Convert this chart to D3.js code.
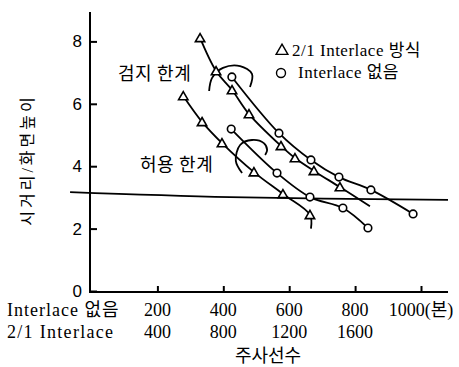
<!DOCTYPE html>
<html>
<head>
<meta charset="utf-8">
<script src="https://cdn.jsdelivr.net/npm/d3@7"></script>
<style>
  html, body { margin: 0; padding: 0; background: #fff; }
  text { font-family: "Liberation Serif", "Noto Sans CJK KR", serif; fill: #000; }
</style>
</head>
<body>
<div id="chart"></div>
<script>
// 2/1 interlace series (x in 2/1 interlace scan lines)
var triUpperX = [659, 756, 853, 956, 1150, 1235, 1350, 1508, 1690];
var triUpperY = [8.11, 7.05, 6.44, 5.67, 4.65, 4.26, 3.85, 3.33, 2.72];
var triLowerX = [557, 671, 792, 986, 1162, 1326, 1332];
var triLowerY = [6.25, 5.42, 4.74, 3.81, 3.11, 2.44, 2.0];
// markers only on measured points (last entry of each line is the drawn tail)
var triUpperMarks = 8;
var triLowerMarks = 6;

// no interlace series (x in scan lines)
var circUpperX = [426, 569, 666, 751, 848, 976];
var circUpperY = [6.86, 5.06, 4.20, 3.65, 3.24, 2.47];
var circLowerX = [424, 563, 663, 763, 839];
var circLowerY = [5.19, 3.78, 3.01, 2.66, 2.02];

// sloping reference line
var refX = [-65, 420, 1082];
var refY = [3.17, 3.01, 2.92];

// annotation loops (no-interlace x units)
var loop1X = [357, 366, 399, 451, 487, 481];
var loop1Y = [6.41, 6.83, 7.15, 7.21, 6.96, 6.54];
var loop2X = [457, 438, 451, 487, 523, 533, 527];
var loop2Y = [3.78, 4.17, 4.68, 4.84, 4.74, 4.52, 4.36];

var yTicks = [0, 2, 4, 6, 8];
var xTicks = [200, 400, 600, 800, 1000];
var xTickLabels = ["200", "400", "600", "800", "1000(본)"];
var x2Ticks = [400, 800, 1200, 1600];

var w = 459, h = 367;

var svg = d3.select("#chart").append("svg")
  .attr("width", w)
  .attr("height", h);

var x = d3.scaleLinear().domain([0, 1000]).range([91.5, 421]);
var x2 = d3.scaleLinear().domain([0, 2000]).range([91.5, 421]);
var y = d3.scaleLinear().domain([0, 8]).range([291, 41.4]);

// axes
var yAxis = d3.axisLeft(y).tickValues(yTicks).tickSizeInner(-7).tickSizeOuter(0).tickPadding(8);
var gy = svg.append("g").attr("transform", "translate(90,0)").call(yAxis);
gy.select(".domain").remove();
gy.selectAll(".tick line").attr("stroke", "#000").attr("stroke-width", 2);
gy.selectAll(".tick text")
  .style("font-family", "'Liberation Sans', Arial, sans-serif")
  .attr("font-size", 17);

svg.append("line")
  .attr("x1", 90).attr("x2", 90)
  .attr("y1", y(0) + 2).attr("y2", y(8.94))
  .attr("stroke", "#000").attr("stroke-width", 2);

var xAxis = d3.axisBottom(x).tickValues(xTicks).tickSizeInner(-6).tickSizeOuter(0).tickFormat("");
var gx = svg.append("g").attr("transform", "translate(0,292)").call(xAxis);
gx.select(".domain").remove();
gx.selectAll(".tick line").attr("stroke", "#000").attr("stroke-width", 2);

svg.append("line")
  .attr("x1", 89).attr("x2", x(1082))
  .attr("y1", 292).attr("y2", 292)
  .attr("stroke", "#000").attr("stroke-width", 2);

// x tick label rows
svg.append("text").attr("x", 7).attr("y", 316).attr("font-size", 18)
  .attr("letter-spacing", 1).text("Interlace 없음");
svg.selectAll(".xl1").data(xTicks).enter().append("text")
  .attr("x", function (d) { return x(d); })
  .attr("y", 316)
  .attr("font-size", 18)
  .attr("text-anchor", "middle")
  .text(function (d, i) { return xTickLabels[i]; });

svg.append("text").attr("x", 7).attr("y", 338).attr("font-size", 18)
  .attr("letter-spacing", 1.3).text("2/1 Interlace");
svg.selectAll(".xl2").data(x2Ticks).enter().append("text")
  .attr("x", function (d) { return x2(d); })
  .attr("y", 338)
  .attr("font-size", 18)
  .attr("text-anchor", "middle")
  .text(function (d) { return d; });

svg.append("text").attr("x", 268).attr("y", 362).attr("font-size", 18)
  .attr("text-anchor", "middle").text("주사선수");

// y label
svg.append("text")
  .attr("transform", "translate(33,160) rotate(-90)")
  .attr("font-size", 16)
  .attr("letter-spacing", 3)
  .attr("text-anchor", "middle")
  .text("시거리/화면높이");

// lines
var curve = d3.curveCatmullRom.alpha(0.5);
function drawLine(xs, ys, sx) {
  var pts = xs.map(function (d, i) { return [sx(d), y(ys[i])]; });
  svg.append("path")
    .attr("d", d3.line().curve(curve)(pts))
    .attr("fill", "none")
    .attr("stroke", "#000")
    .attr("stroke-width", 1.8);
}
drawLine(refX, refY, x);
drawLine(triUpperX, triUpperY, x2);
drawLine(triLowerX, triLowerY, x2);
drawLine(circUpperX, circUpperY, x);
drawLine(circLowerX, circLowerY, x);
drawLine(loop1X, loop1Y, x);
drawLine(loop2X, loop2Y, x);

// markers
var tri = d3.symbol().type(d3.symbolTriangle).size(38);
function drawTri(xs, ys, n) {
  svg.selectAll(null).data(xs.slice(0, n)).enter().append("path")
    .attr("d", tri)
    .attr("transform", function (d, i) { return "translate(" + x2(d) + "," + (y(ys[i]) + 1) + ")"; })
    .attr("fill", "#fff").attr("stroke", "#000").attr("stroke-width", 1.6);
}
function drawCirc(xs, ys) {
  svg.selectAll(null).data(xs).enter().append("circle")
    .attr("cx", function (d) { return x(d); })
    .attr("cy", function (d, i) { return y(ys[i]); })
    .attr("r", 3.8)
    .attr("fill", "#fff").attr("stroke", "#000").attr("stroke-width", 1.6);
}
drawTri(triUpperX, triUpperY, triUpperMarks);
drawTri(triLowerX, triLowerY, triLowerMarks);
drawCirc(circUpperX, circUpperY);
drawCirc(circLowerX, circLowerY);

// annotations
svg.append("text").attr("x", 118).attr("y", 80).attr("font-size", 18)
  .attr("letter-spacing", 0.5).text("검지 한계");
svg.append("text").attr("x", 140).attr("y", 171).attr("font-size", 18)
  .attr("letter-spacing", 0.5).text("허용 한계");

// legend
svg.append("path").attr("d", d3.symbol().type(d3.symbolTriangle).size(60))
  .attr("transform", "translate(282,51)")
  .attr("fill", "#fff").attr("stroke", "#000").attr("stroke-width", 1.4);
svg.append("text").attr("x", 292).attr("y", 56).attr("font-size", 17)
  .attr("letter-spacing", 0.5).text("2/1 Interlace 방식");
svg.append("circle").attr("cx", 281).attr("cy", 73).attr("r", 4.5)
  .attr("fill", "#fff").attr("stroke", "#000").attr("stroke-width", 1.4);
svg.append("text").attr("x", 298).attr("y", 78).attr("font-size", 17)
  .attr("letter-spacing", 0.5).text("Interlace 없음");
</script>
</body>
</html>
